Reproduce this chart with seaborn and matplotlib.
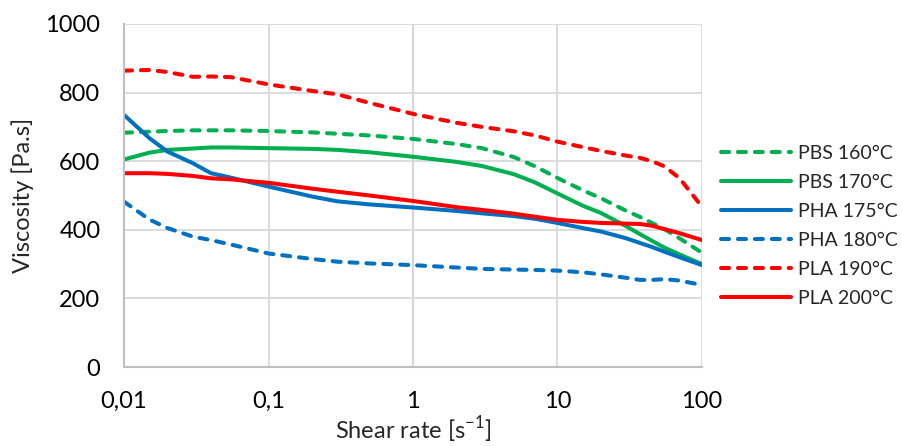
import numpy as np
import pandas as pd
import matplotlib
matplotlib.use("Agg")
import matplotlib.pyplot as plt
import seaborn as sns

# shear rate grid [1/s]
shear = [0.01, 0.015, 0.02, 0.03, 0.04, 0.055, 0.1, 0.2, 0.3, 0.5,
         1, 2, 3, 5, 7, 10, 15, 20, 30, 37, 45, 55, 70, 100]

pbs_160 = [683, 686, 688, 690, 690, 690, 688, 684, 680, 675,
           665, 650, 638, 612, 585, 551, 515, 492, 455, 438, 420, 402, 375, 333]
pbs_170 = [605, 625, 633, 637, 640, 640, 638, 636, 633, 626,
           613, 598, 586, 562, 538, 506, 470, 449, 410, 388, 368, 348, 328, 300]
pha_175 = [735, 667, 628, 594, 565, 552, 526, 497, 483, 474,
           465, 455, 448, 440, 432, 420, 405, 395, 375, 362, 350, 336, 320, 297]
pha_180 = [482, 430, 405, 380, 370, 357, 331, 315, 307, 302,
           297, 290, 286, 284, 283, 281, 276, 270, 260, 254, 254, 256, 252, 239]
pla_190 = [864, 866, 860, 846, 847, 845, 824, 805, 795, 770,
           738, 712, 700, 687, 675, 657, 641, 630, 616, 610, 600, 585, 550, 467]
pla_200 = [565, 565, 563, 557, 550, 547, 537, 520, 511, 500,
           484, 466, 458, 447, 438, 429, 423, 420, 418, 417, 412, 402, 390, 370]

series = {
    "PBS 160°C": pbs_160,
    "PBS 170°C": pbs_170,
    "PHA 175°C": pha_175,
    "PHA 180°C": pha_180,
    "PLA 190°C": pla_190,
    "PLA 200°C": pla_200,
}

x_ticks = [0.01, 0.1, 1, 10, 100]
x_tick_labels = ["0,01", "0,1", "1", "10", "100"]
y_ticks = [0, 200, 400, 600, 800, 1000]

colors = {
    "PBS 160°C": "#00B050", "PBS 170°C": "#00B050",
    "PHA 175°C": "#0070C0", "PHA 180°C": "#0070C0",
    "PLA 190°C": "#FF0000", "PLA 200°C": "#FF0000",
}
dash = (2.0, 2.2)
dashes = {
    "PBS 160°C": dash, "PBS 170°C": "",
    "PHA 175°C": "", "PHA 180°C": dash,
    "PLA 190°C": dash, "PLA 200°C": "",
}

df = pd.concat([pd.DataFrame({"shear": shear, "visc": v, "sample": k})
                for k, v in series.items()], ignore_index=True)

sns.set_style("white")
plt.rcParams["font.family"] = ["Lato", "DejaVu Sans"]
plt.rcParams["mathtext.fontset"] = "custom"
plt.rcParams["mathtext.rm"] = "Lato"

fig = plt.figure(figsize=(9.03, 4.46), dpi=100)
ax = fig.add_axes([124 / 903, 79 / 446, 578 / 903, 343 / 446])

sns.lineplot(data=df, x="shear", y="visc", hue="sample", style="sample",
             palette=colors, dashes=dashes, linewidth=2.9,
             dash_capstyle="round", solid_capstyle="round",
             solid_joinstyle="round", ax=ax)

ax.set_xscale("log")
ax.set_xlim(0.01, 100)
ax.set_ylim(0, 1000)
ax.set_xticks(x_ticks)
ax.set_xticklabels(x_tick_labels)
ax.minorticks_off()
ax.set_yticks(y_ticks)
ax.tick_params(axis="both", length=0, labelsize=17, pad=17, colors="black")

ax.grid(True, color="#d9d9d9", linewidth=1.3)
ax.set_axisbelow(True)
ax.axvline(1, color="#bfbfbf", linewidth=1.5, zorder=0.5)
for s in ["top", "right"]:
    ax.spines[s].set_visible(False)
for s in ["left", "bottom"]:
    ax.spines[s].set_color("#bfbfbf")
    ax.spines[s].set_linewidth(1.5)

ax.set_xlabel(r"Shear rate [s$^{\mathregular{-1}}$]", fontsize=17, labelpad=2)
ax.set_ylabel("Viscosity [Pa.s]", fontsize=17, labelpad=8)

handles, labels = ax.get_legend_handles_labels()
ax.get_legend().remove()
fig.legend(handles, labels, loc="center left", bbox_to_anchor=(721 / 903, 0.493),
           frameon=False, fontsize=14, handlelength=3.6, handletextpad=0.36,
           labelspacing=0.62, borderpad=0, borderaxespad=0)

fig.savefig("out.png", dpi=100)
